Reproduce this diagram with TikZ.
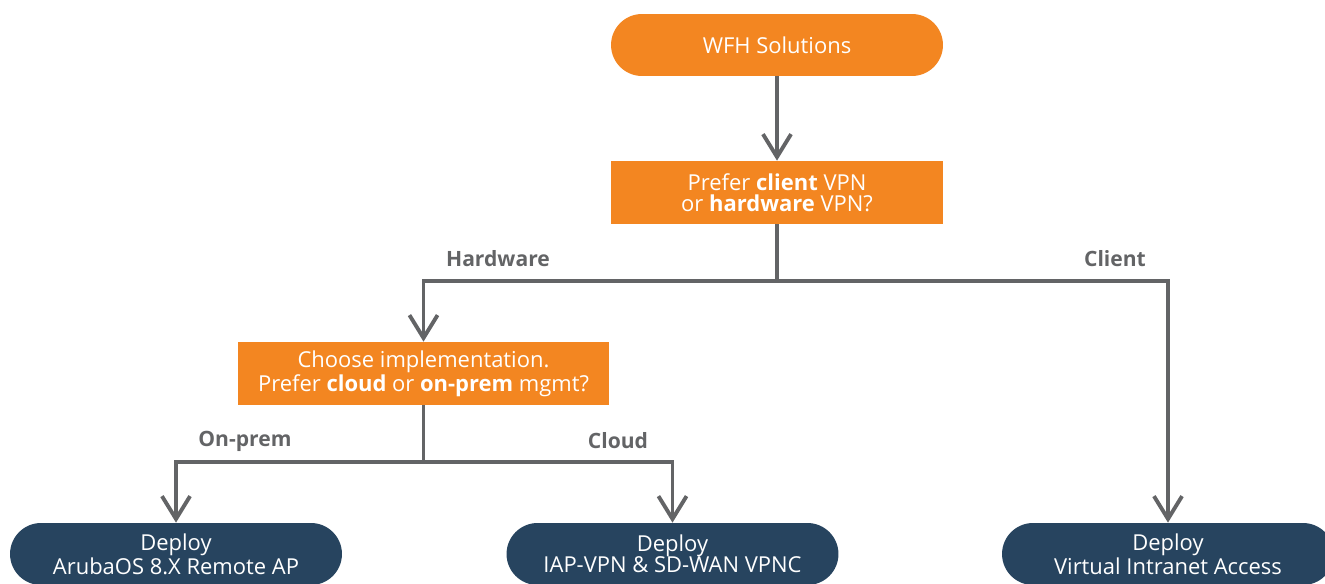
\documentclass[tikz,border=0pt]{standalone}
\usepackage{fontspec}
\setmainfont{Open Sans}
\usetikzlibrary{arrows.meta}
\definecolor{wfhorange}{HTML}{F38621}
\definecolor{wfhnavy}{HTML}{27445F}
\definecolor{wfhgray}{HTML}{636466}

\begin{document}
\begin{tikzpicture}[x=0.02cm,y=-0.02cm,
    every node/.style={font=\fontsize{12.5}{12.1}\selectfont, align=center},
    pill/.style={fill=wfhorange, text=white, rounded corners=0.62cm, minimum width=6.64cm, minimum height=1.24cm},
    ask/.style={fill=wfhorange, text=white, minimum height=1.26cm},
    deploy/.style={fill=wfhnavy, text=white, rounded corners=0.62cm, minimum width=6.64cm, minimum height=1.24cm},
    branch/.style={text=wfhgray, font=\fontsize{12}{12}\selectfont\bfseries},
    link/.style={draw=wfhgray, line width=2.2pt, -{Straight Barb[length=13pt,width=16pt]}}]
    \useasboundingbox (0,0) rectangle (1325,584);

    \node[pill] (wfh) at (777,45) {WFH Solutions};
    \node[ask, minimum width=6.64cm] (pref) at (777,192.5) {Prefer \textbf{client} VPN\\or \textbf{hardware} VPN?};
    \node[ask, minimum width=7.42cm] (impl) at (423.5,373.5) {Choose implementation.\\Prefer \textbf{cloud} or \textbf{on-prem} mgmt?};

    \node[deploy] (rap) at (176,554) {Deploy\\ArubaOS 8.X Remote AP};
    \node[deploy] (vpnc) at (672.5,554) {Deploy\\IAP-VPN \& SD-WAN VPNC};
    \node[deploy] (via) at (1168,554) {Deploy\\Virtual Intranet Access};

    \node[branch] (hw) at (498,259) {Hardware};
    \node[branch] (cl) at (1115,259) {Client};
    \node[branch] (op) at (245,441) {On-prem};
    \node[branch] (cd) at (618,441) {Cloud};

    \draw[link] (wfh) -- (pref);
    \draw[link] (pref.south) -- ++(0,57) -| (impl.north);
    \draw[link] (pref.south) -- ++(0,57) -| (via.north);
    \draw[link] (impl.south) -- ++(0,57) -| (rap.north);
    \draw[link] (impl.south) -- ++(0,57) -| (vpnc.north);
\end{tikzpicture}
\end{document}
